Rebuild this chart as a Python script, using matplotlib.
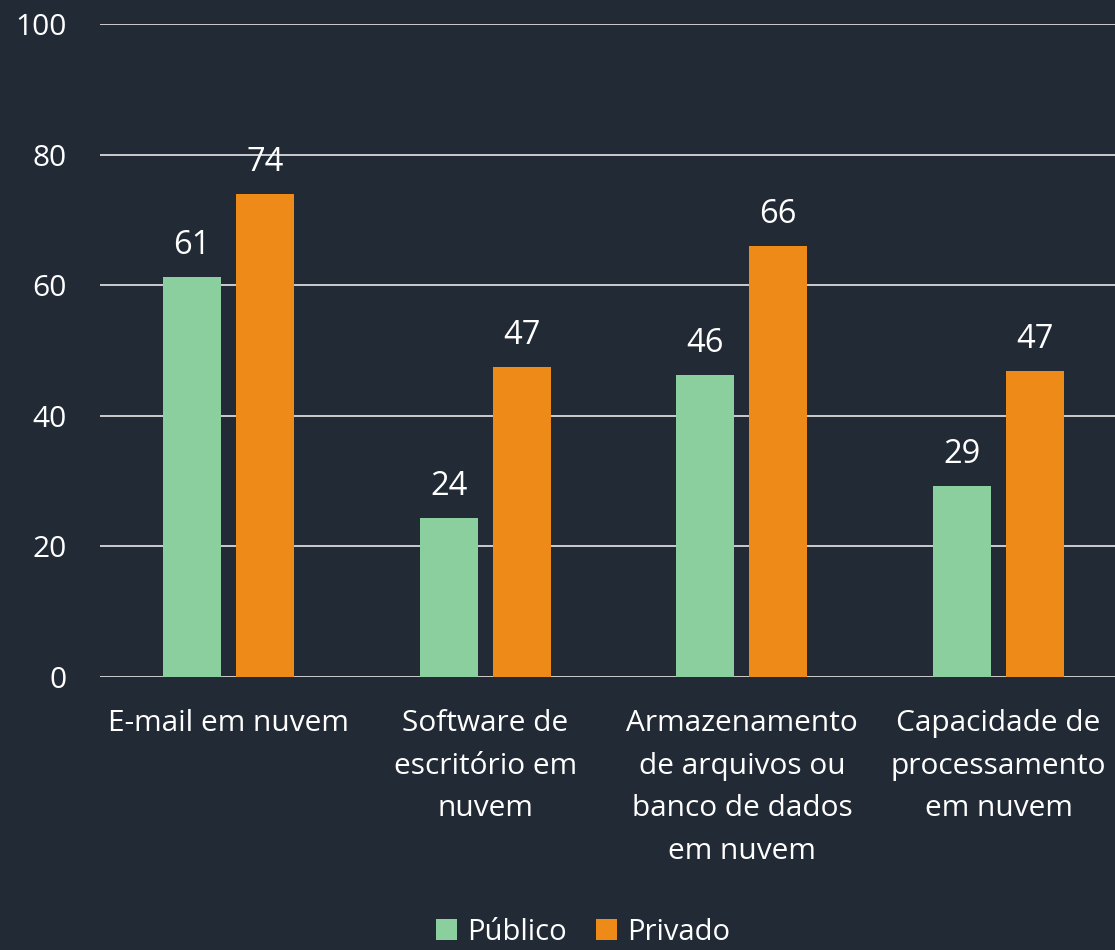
import matplotlib
matplotlib.use("Agg")
import matplotlib.pyplot as plt
import numpy as np

categories = ["E-mail em nuvem", "Software de\nescritório em\nnuvem",
              "Armazenamento\nde arquivos ou\nbanco de dados\nem nuvem",
              "Capacidade de\nprocessamento\nem nuvem"]
publico = [61.3, 24.4, 46.2, 29.3]
privado = [74.0, 47.4, 66.0, 46.8]
series_names = ["Público", "Privado"]
yticks = [0, 20, 40, 60, 80, 100]

BG = "#222a35"
GREEN = "#8ccf9e"
ORANGE = "#ee8a18"
TXT = "#ffffff"

plt.rcParams['font.family'] = ['Open Sans', 'DejaVu Sans']

fig = plt.figure(figsize=(11.15, 9.5), dpi=100, facecolor=BG)
ax = fig.add_axes([100/1115, 1-677/950, 1027/1115, (677-24)/950], facecolor=BG)

x = np.arange(len(categories))
w = 0.226
off = 0.142
b1 = ax.bar(x - off, publico, w, color=GREEN, label=series_names[0], zorder=3)
b2 = ax.bar(x + off, privado, w, color=ORANGE, label=series_names[1], zorder=3)

for bars, vals in ((b1, publico), (b2, privado)):
    for r, v in zip(bars, vals):
        ax.text(r.get_x() + r.get_width()/2, v + 2.3, f"{round(v)}",
                ha='center', va='bottom', color=TXT, fontsize=23.5)

ax.set_xlim(-0.5, 3.5)
ax.set_ylim(0, 100)
ax.set_yticks(yticks)
ax.set_yticklabels([str(t) for t in yticks])
ax.set_xticks(x)
ax.set_xticklabels(categories, linespacing=1.62)
ax.tick_params(axis='both', length=0, colors=TXT, labelsize=21.5)
ax.tick_params(axis='y', pad=24)
ax.tick_params(axis='x', pad=23)
for lbl in ax.get_yticklabels():
    lbl.set_horizontalalignment('right')
ax.grid(axis='y', color='#d9d9d9', linewidth=1.3, zorder=0)
for s in ax.spines.values():
    s.set_visible(False)

leg = fig.legend(handles=[b1, b2], labels=series_names, loc='center',
                 bbox_to_anchor=(0.523, 1-932/950), ncol=2, frameon=False,
                 fontsize=21, labelcolor=TXT, handlelength=0.72, handleheight=0.72,
                 handletextpad=0.35, columnspacing=1.0)

fig.savefig("out.png", dpi=100, facecolor=BG)
